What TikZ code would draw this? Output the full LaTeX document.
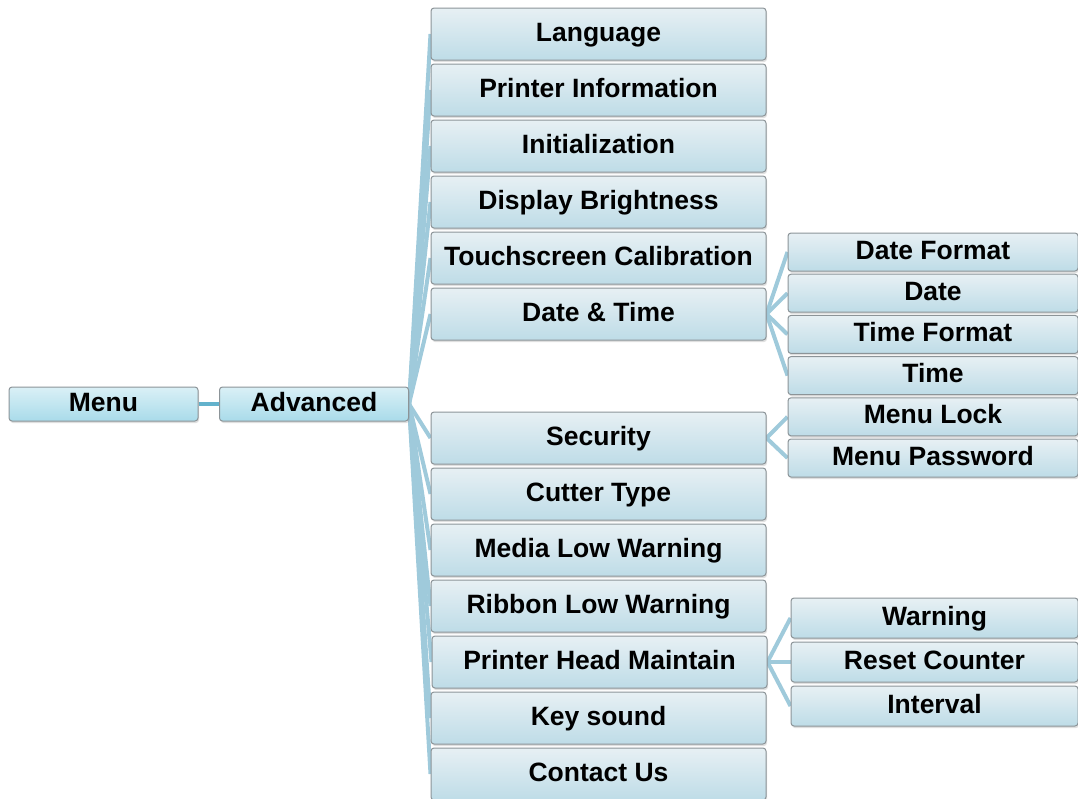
\documentclass[tikz,border=0pt]{standalone}
\usepackage{fontspec}
\setmainfont{Liberation Sans}
\usetikzlibrary{backgrounds,shadows}
\definecolor{topA}{HTML}{DAF0F6}
\definecolor{botA}{HTML}{A9DBEA}
\definecolor{topB}{HTML}{E7F0F4}
\definecolor{botB}{HTML}{BEDCE7}
\definecolor{edgeC}{HTML}{8C9498}
\definecolor{linkC}{HTML}{9FCADB}
\definecolor{linkD}{HTML}{63B2CC}
\tikzset{
  basebox/.style={rectangle, rounded corners=3pt, draw=edgeC, line width=1pt,
    align=center, inner sep=0pt, text height=19pt, text depth=5pt,
    font=\fontsize{26.5}{30}\selectfont\bfseries,
    drop shadow={opacity=0.25, shadow xshift=1pt, shadow yshift=-2pt}},
  rootbox/.style={basebox, top color=topA, bottom color=botA, minimum width=189pt, minimum height=34pt},
  midbox/.style={basebox, top color=topB, bottom color=botB, minimum width=335pt, minimum height=52pt},
  subbox/.style={basebox, top color=topB, bottom color=botB, minimum width=290pt, minimum height=38pt},
  subboxw/.style={basebox, top color=topB, bottom color=botB, minimum width=287pt, minimum height=40pt},
  link/.style={draw=linkC, line width=4pt},
  rootlink/.style={draw=linkD, line width=4pt},
}
\begin{document}
\begin{tikzpicture}[x=1pt,y=-1pt]
\useasboundingbox (0,0) rectangle (1078,798);
% root
\node[rootbox] (menu) at (103.5,404) {Menu};
\node[rootbox] (adv) at (314,404) {Advanced};
% column 2
\node[midbox] (lang) at (598.5,34) {Language};
\node[midbox] (pinfo) at (598.5,90) {Printer Information};
\node[midbox] (init) at (598.5,146) {Initialization};
\node[midbox] (disp) at (598.5,202) {Display Brightness};
\node[midbox] (touch) at (598.5,258) {Touchscreen Calibration};
\node[midbox] (dt) at (598.5,314) {Date \& Time};
\node[midbox] (sec) at (598.5,438) {Security};
\node[midbox] (cut) at (598.5,494) {Cutter Type};
\node[midbox] (media) at (598.5,550) {Media Low Warning};
\node[midbox] (ribbon) at (598.5,606) {Ribbon Low Warning};
\node[midbox] (phm) at (599.5,662) {Printer Head Maintain};
\node[midbox] (key) at (598.5,718) {Key sound};
\node[midbox] (contact) at (598.5,774) {Contact Us};
% column 3
\node[subbox] (dfmt) at (933,252) {Date Format};
\node[subbox] (date) at (933,293.2) {Date};
\node[subbox] (tfmt) at (933,334.4) {Time Format};
\node[subbox] (time) at (933,375.6) {Time};
\node[subbox] (mlock) at (933,416.8) {Menu Lock};
\node[subbox] (mpass) at (933,458) {Menu Password};
\node[subboxw] (warn) at (934.5,618) {Warning};
\node[subboxw] (reset) at (934.5,662) {Reset Counter};
\node[subboxw] (intv) at (934.5,706) {Interval};
\begin{scope}[on background layer]
\draw[rootlink] (menu.east) -- (adv.west);
\foreach \c in {lang,pinfo,init,disp,touch,dt,sec,cut,media,ribbon,phm,key,contact}
  \draw[link] (adv.east) -- (\c.west);
\foreach \c in {dfmt,date,tfmt,time}
  \draw[link] (dt.east) -- (\c.west);
\foreach \c in {mlock,mpass}
  \draw[link] (sec.east) -- (\c.west);
\foreach \c in {warn,reset,intv}
  \draw[link] (phm.east) -- (\c.west);
\end{scope}
\end{tikzpicture}
\end{document}
